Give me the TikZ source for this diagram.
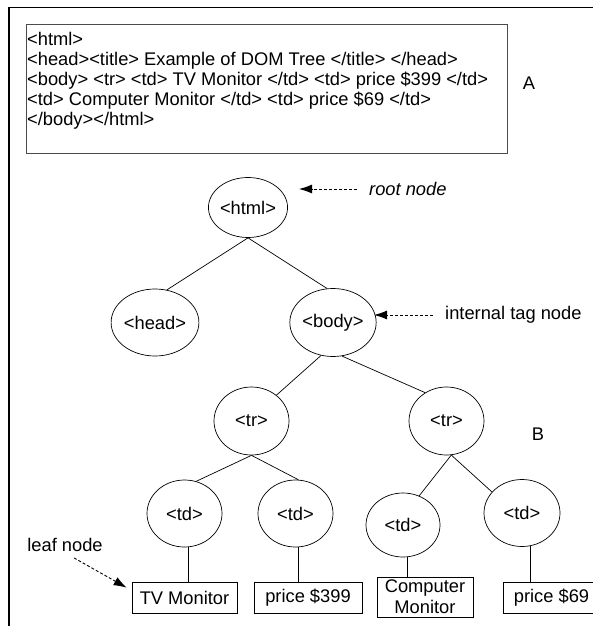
\documentclass[tikz,border=0pt]{standalone}
\usepackage{fontspec}
\setmainfont{Liberation Sans}
\usetikzlibrary{shapes.geometric,arrows.meta}

\begin{document}
\begin{tikzpicture}[x=1pt,y=-1pt,font=\fontsize{18.3}{19.8}\selectfont]
  \tikzset{tag/.style={draw,ellipse,inner sep=0pt,line width=0.7pt,minimum width=75pt,minimum height=67pt}}
  \tikzset{leaf/.style={draw,rectangle,inner sep=0pt,line width=0.7pt,minimum height=31pt}}
  \tikzset{edge/.style={line width=0.7pt}}
  \tikzset{note/.style={inner xsep=12pt,inner ysep=0pt}}
  \tikzset{pointer/.style={-{Latex[length=13pt,width=9pt]},dash pattern=on 3pt off 2pt,line width=0.9pt}}
  \useasboundingbox (0,0) rectangle (593,626);
  % frame and page source
  \draw[line width=1.8pt] (9,627) -- (9,7.5) -- (594,7.5);
  \draw[black!70,line width=0.8pt] (26,24) rectangle (507,153);
  \node[anchor=north west,inner sep=0pt,align=left] (code) at (27,32.5)
    {<html>\\
     <head><title> Example of DOM Tree </title> </head>\\
     <body> <tr> <td> TV Monitor </td> <td> price \$399 </td>\\
     <td> Computer Monitor </td> <td> price \$69 </td>\\
     </body></html>};
  \node (labA) at (529,83) {A};
  \node (labB) at (538,434) {B};
  % tag nodes
  \node[tag,minimum height=60pt] (html) at (248,207.5) {<html>};
  \node[tag,minimum width=83pt] (head) at (155,322.5) {<head>};
  \node[tag,minimum width=80pt,minimum height=68pt] (body) at (333,322.5) {<body>};
  \node[tag,minimum height=68pt] (trOne) at (251.5,421) {<tr>};
  \node[tag,minimum height=68pt] (trTwo) at (446.5,421) {<tr>};
  \node[tag] (tdOne) at (184.5,513.5) {<td>};
  \node[tag] (tdTwo) at (295.5,513.5) {<td>};
  \node[tag,minimum width=74pt,minimum height=64pt] (tdThree) at (403,525) {<td>};
  \node[tag,minimum width=76pt] (tdFour) at (522,513) {<td>};
  % leaf nodes
  \node[leaf,minimum width=105pt] (tv) at (184.5,597.5) {TV Monitor};
  \node[leaf,minimum width=108pt] (pOne) at (308,597.5) {price \$399};
  \node[leaf,minimum width=96pt,minimum height=40pt,align=center,
    font=\fontsize{18.3}{21}\selectfont] (comp) at (425,597) {Computer\\Monitor};
  \node[leaf,minimum width=97pt] (pTwo) at (551.5,597.5) {price \$69};
  % edges
  \draw[edge] (html.south) -- (head.70);
  \draw[edge] (html.south) -- (body.100);
  \draw[edge] (body.-110) -- (trOne.46);
  \draw[edge] (body.-75) -- (trTwo.127);
  \draw[edge] (trOne.south) -- (tdOne.70);
  \draw[edge] (trOne.south) -- (tdTwo.85);
  \draw[edge] (trTwo.-82) -- (tdThree.61);
  \draw[edge] (trTwo.-82) -- (tdFour.145);
  \draw[edge] (tdOne.-83) -- (tdOne.-83 |- tv.north);
  \draw[edge] (tdTwo.-86) -- (tdTwo.-86 |- pOne.north);
  \draw[edge] (tdThree.-82) -- (tdThree.-82 |- comp.north);
  \draw[edge] (tdFour.-76) -- (tdFour.-76 |- pTwo.north);
  % pointers
  \node[note,anchor=west] (rootLbl) at (357,189) {\itshape root node};
  \node[note,anchor=west] (innerLbl) at (433,315) {internal tag node};
  \node[inner sep=0pt] (leafLbl) at (65,545) {leaf node};
  \coordinate (rootTip) at (299,189);
  \coordinate (innerTip) at (374,315);
  \draw[pointer] (rootLbl.west) -- (rootTip);
  \draw[pointer] (innerLbl.west) -- (innerTip);
  \draw[pointer] ([xshift=9pt,yshift=-6pt]leafLbl.south) -- ([xshift=-5pt,yshift=-6pt]tv.north west);
\end{tikzpicture}
\end{document}
